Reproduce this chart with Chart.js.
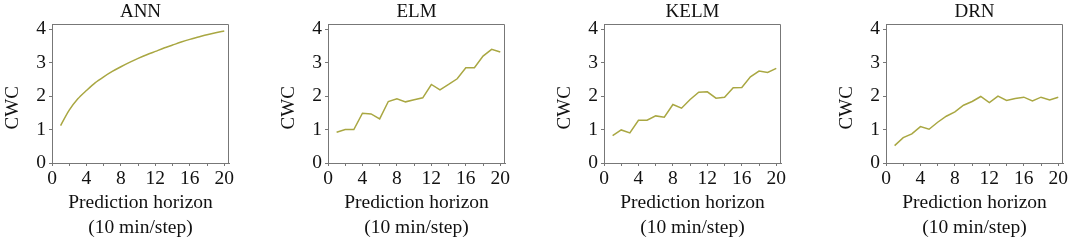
<!DOCTYPE html>
<html>
<head>
<meta charset="utf-8">
<script src="https://cdn.jsdelivr.net/npm/chart.js@4.4.1/dist/chart.umd.min.js"></script>
<style>
  body { margin: 0; background: #fff; }
  #wrap { position: relative; width: 1072px; height: 243px; }
  .panel { position: absolute; top: 0; width: 241px; height: 243px; }
</style>
</head>
<body>
<div id="wrap">
  <div class="panel" style="left:0px"><canvas id="c0"></canvas></div>
  <div class="panel" style="left:276px"><canvas id="c1"></canvas></div>
  <div class="panel" style="left:552px"><canvas id="c2"></canvas></div>
  <div class="panel" style="left:834px"><canvas id="c3"></canvas></div>
</div>
<script>
const steps = [1, 2, 3, 4, 5, 6, 7, 8, 9, 10, 11, 12, 13, 14, 15, 16, 17, 18, 19, 20];
const models = ['ANN', 'ELM', 'KELM', 'DRN'];

// CWC for each model
const annCwc = [1.12, 1.58, 1.92, 2.17, 2.40, 2.58, 2.74, 2.88, 3.01, 3.13, 3.24, 3.34, 3.44, 3.53, 3.62, 3.70, 3.77, 3.84, 3.90, 3.95];
const elmCwc = [0.92, 1.00, 1.00, 1.49, 1.47, 1.32, 1.84, 1.92, 1.83, 1.89, 1.95, 2.35, 2.19, 2.35, 2.52, 2.85, 2.85, 3.20, 3.40, 3.32];
const kelmCwc = [0.82, 0.99, 0.90, 1.28, 1.28, 1.41, 1.37, 1.75, 1.64, 1.90, 2.12, 2.13, 1.94, 1.97, 2.25, 2.26, 2.58, 2.75, 2.71, 2.83];
const drnCwc = [0.52, 0.76, 0.87, 1.09, 1.01, 1.22, 1.40, 1.53, 1.73, 1.84, 1.99, 1.81, 2.00, 1.87, 1.93, 1.97, 1.86, 1.97, 1.89, 1.97];

const xTicks = [0, 4, 8, 12, 16, 20];
const yTicks = [0, 1, 2, 3, 4];

const allCwc = [annCwc, elmCwc, kelmCwc, drnCwc];
const axisColor = '#777';
const lineColor = '#a9a742';

Chart.defaults.font.family = "'Liberation Serif', 'Times New Roman', serif";
Chart.defaults.color = '#111';

// draws the top and right edges of the plot box
const boxFrame = {
  id: 'boxFrame',
  afterDraw(chart) {
    const a = chart.chartArea;
    const ctx = chart.ctx;
    ctx.save();
    ctx.strokeStyle = axisColor;
    ctx.lineWidth = 1;
    ctx.beginPath();
    ctx.moveTo(Math.round(a.left) + 0.5, Math.round(a.top) + 0.5);
    ctx.lineTo(Math.round(a.right) - 0.5, Math.round(a.top) + 0.5);
    ctx.lineTo(Math.round(a.right) - 0.5, Math.round(a.bottom) + 0.5);
    ctx.stroke();
    ctx.restore();
  }
};

models.forEach((name, i) => {
  const ctx = document.getElementById('c' + i).getContext('2d');
  new Chart(ctx, {
    type: 'line',
    data: {
      datasets: [{
        label: name,
        data: steps.map((s, k) => ({ x: s, y: allCwc[i][k] })),
        borderColor: lineColor,
        borderWidth: 1.5,
        pointRadius: 0,
        tension: i === 0 ? 0.3 : 0,
        fill: false
      }]
    },
    options: {
      responsive: true,
      maintainAspectRatio: false,
      animation: false,
      layout: { padding: { left: 0, right: 12, top: 0, bottom: 0 } },
      plugins: {
        legend: { display: false },
        tooltip: { enabled: false },
        title: {
          display: true,
          text: name,
          fullSize: false,
          font: { size: 19, weight: 'normal', lineHeight: 1.2 },
          color: '#111',
          padding: { top: 0.4, bottom: 0.8 }
        }
      },
      scales: {
        x: {
          type: 'linear',
          min: 0,
          max: 20.55,
          grid: { drawOnChartArea: false, color: axisColor, tickLength: 3 },
          border: { color: axisColor },
          ticks: {
            stepSize: 2,
            includeBounds: false,
            maxRotation: 0,
            autoSkip: false,
            padding: 1,
            font: { size: 19.5 },
            callback: v => xTicks.includes(v) ? String(v) : ''
          },
          title: {
            display: true,
            text: ['Prediction horizon', '(10 min/step)'],
            font: { size: 19.5, lineHeight: 1.28 },
            padding: { top: 0, bottom: 3 }
          },
          afterFit: s => { s.height = 80; }
        },
        y: {
          min: 0,
          max: 4.16,
          grid: { drawOnChartArea: false, color: axisColor, tickLength: 3 },
          border: { color: axisColor },
          ticks: {
            stepSize: 0.5,
            includeBounds: false,
            padding: 3,
            font: { size: 19.5 },
            callback: v => yTicks.includes(v) ? String(v) : ''
          },
          title: {
            display: true,
            text: 'CWC      ',
            font: { size: 19, lineHeight: 1.2 },
            padding: { top: 2, bottom: 0 }
          },
          afterFit: s => { s.width = 52; }
        }
      }
    },
    plugins: [boxFrame]
  });
});
</script>
</body>
</html>
